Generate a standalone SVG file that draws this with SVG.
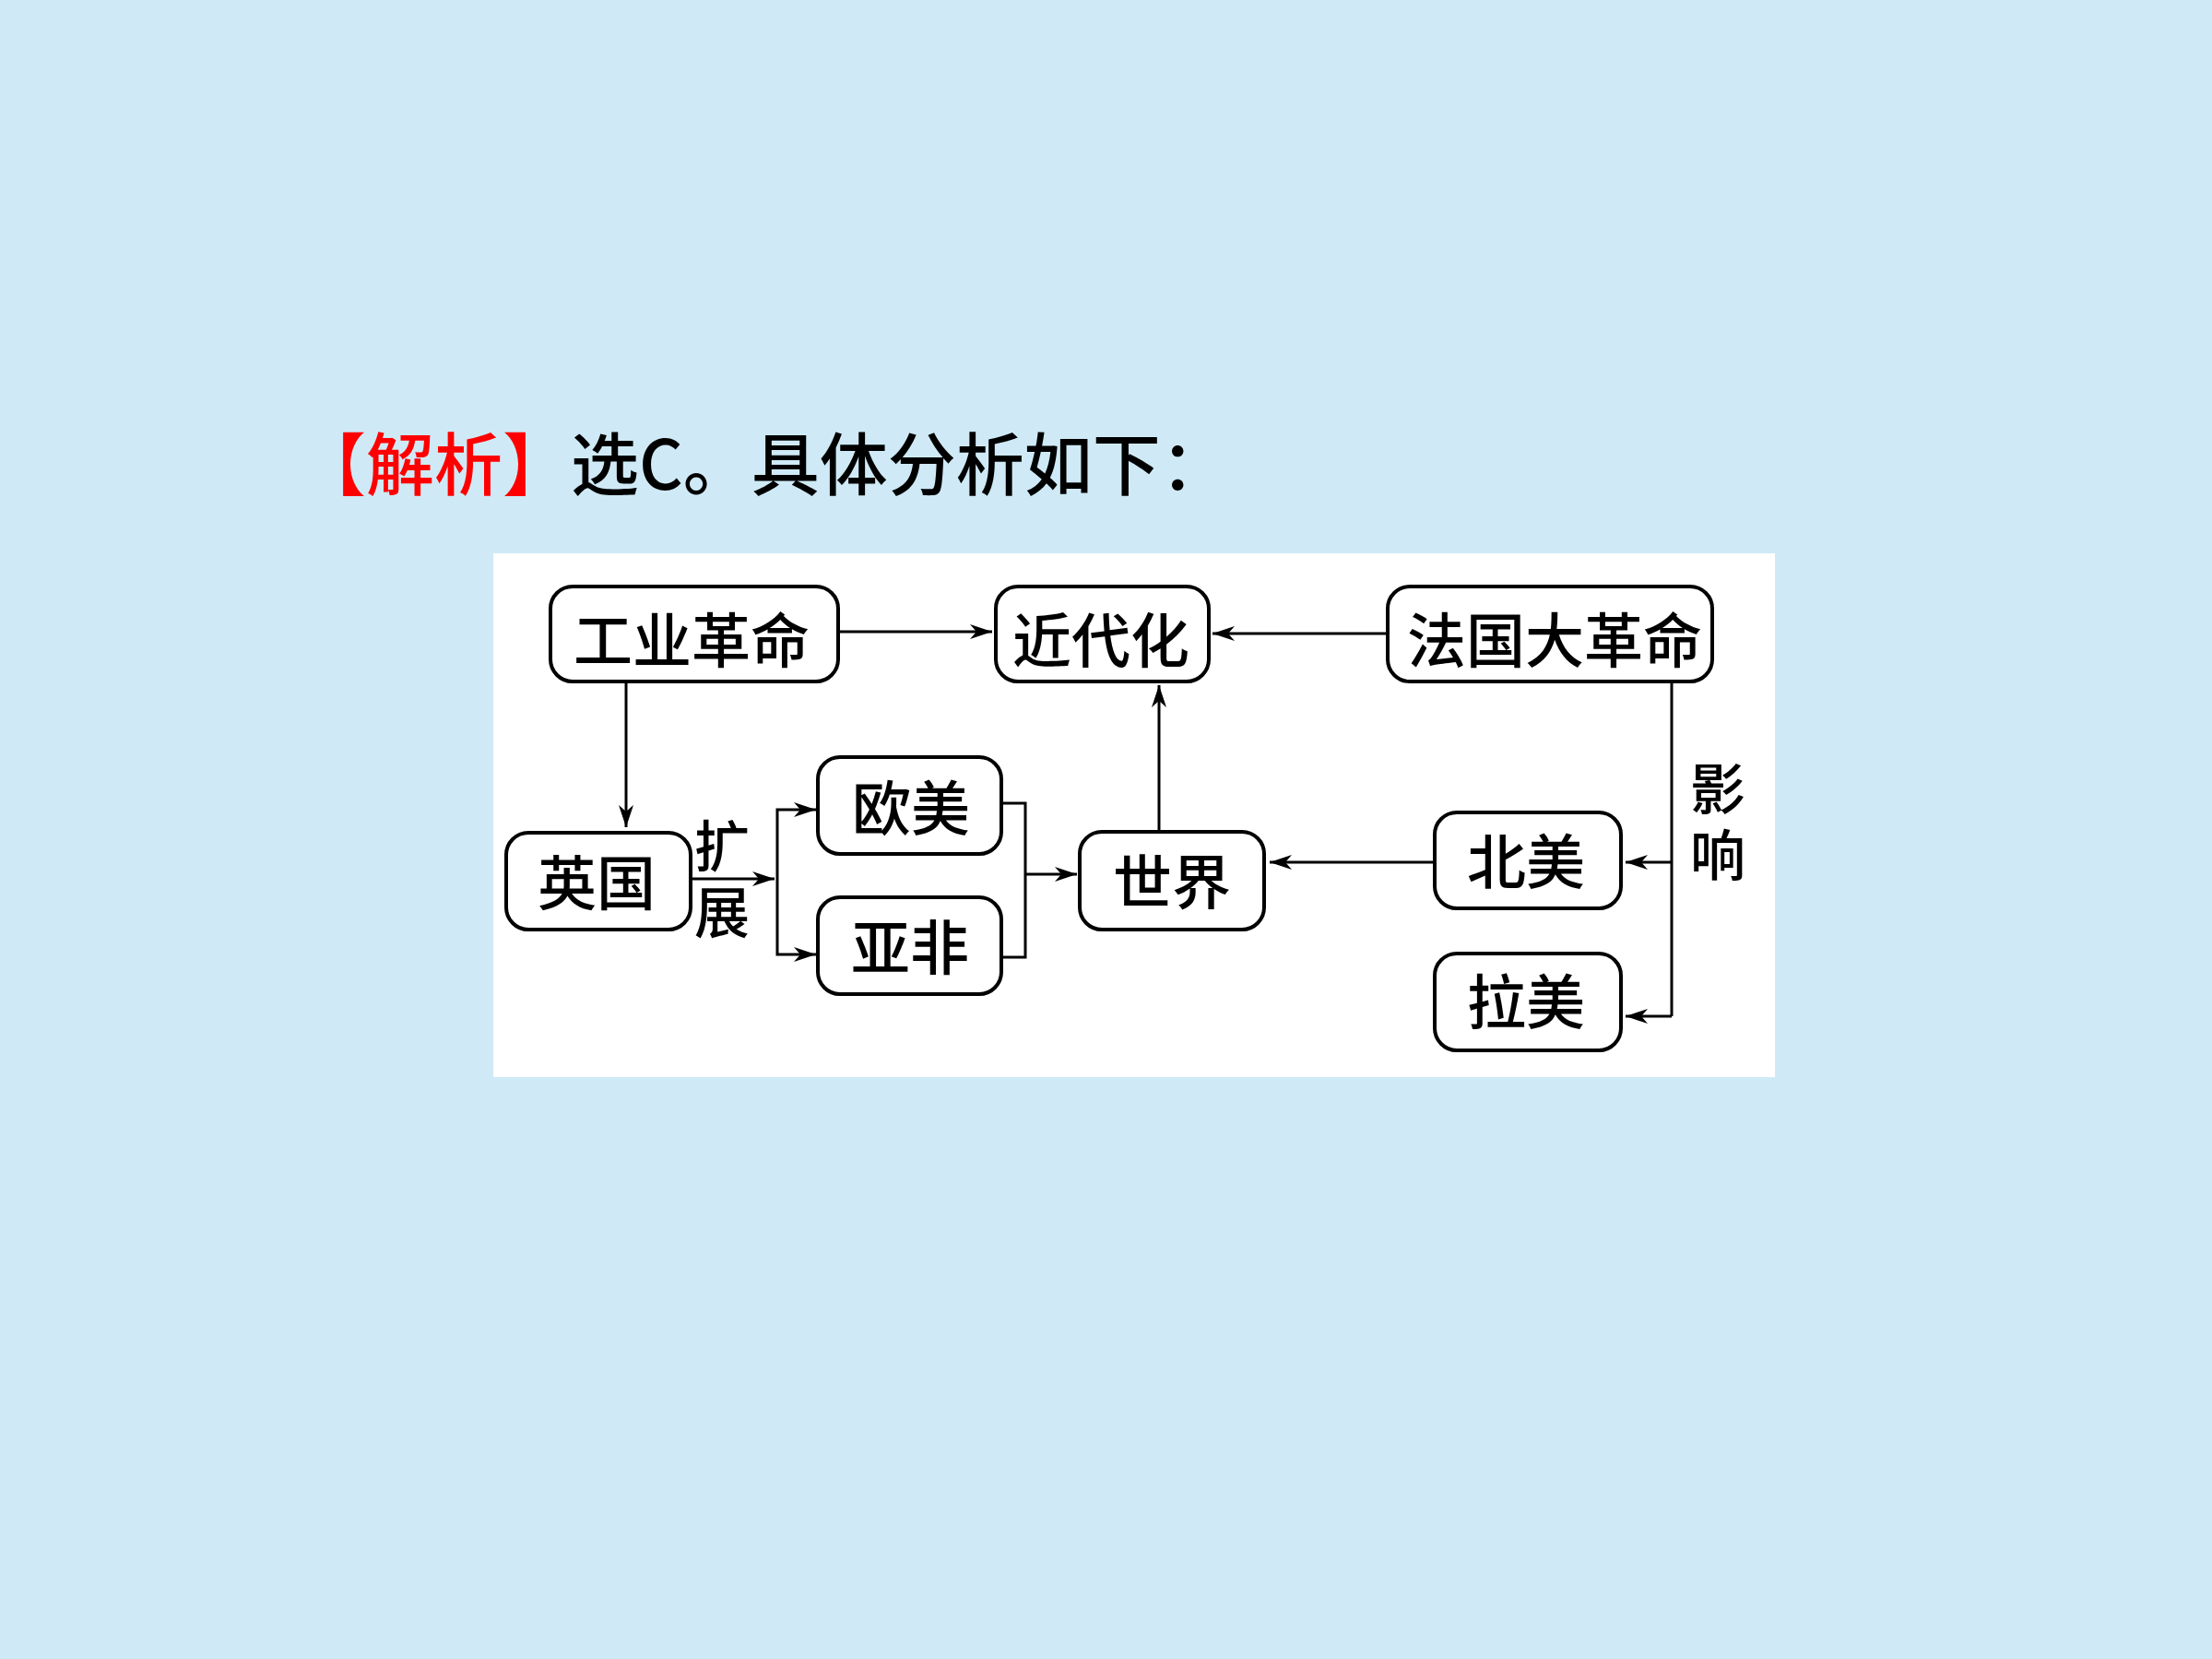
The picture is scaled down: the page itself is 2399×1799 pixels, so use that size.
<svg xmlns="http://www.w3.org/2000/svg" width="2399" height="1799" viewBox="0 0 2399 1799">
<defs>
<style>
.box{fill:#ffffff;stroke:#000000;stroke-width:4}
.lbl{font-family:"Noto Sans CJK SC","Noto Sans CJK JP",sans-serif;font-size:64px;font-weight:500;fill:#000000;text-anchor:middle;dominant-baseline:central}
.side{font-family:"Noto Sans CJK SC","Noto Sans CJK JP",sans-serif;font-size:60px;font-weight:500;fill:#000000;text-anchor:middle;writing-mode:vertical-rl;letter-spacing:12px}
.ln{fill:none;stroke:#000000;stroke-width:3}
.arr{marker-end:url(#ah)}
.title{font-family:"Noto Sans CJK SC","Noto Sans CJK JP",sans-serif;font-size:74px;font-weight:500;dominant-baseline:central}
</style>
<marker id="ah" viewBox="0 0 24 16" markerWidth="24" markerHeight="16" refX="24" refY="8" orient="auto" markerUnits="userSpaceOnUse">
<path d="M0,0 L24,8 L0,16 L7,8 Z" fill="#000000"/>
</marker>
</defs>
<rect x="0" y="0" width="2399" height="1799" fill="#cfeaf6"/>
<text class="title" x="323" y="498"><tspan fill="#ff0000">【解析】</tspan><tspan fill="#000000">选C。具体分析如下：</tspan></text>
<rect x="535" y="600" width="1390" height="568" fill="#ffffff"/>
<g id="connectors">
<path class="ln arr" d="M909,685 H1076"/>
<path class="ln arr" d="M1505,687 H1315"/>
<path class="ln arr" d="M679,739 V897"/>
<path class="ln arr" d="M750,953 H840"/>
<path class="ln arr" d="M843,953 V878 H885"/>
<path class="ln arr" d="M843,953 V1035 H885"/>
<path class="ln" d="M1086,871 H1112 V1038 H1086"/>
<path class="ln arr" d="M1112,948 H1168"/>
<path class="ln arr" d="M1257,901 V743"/>
<path class="ln arr" d="M1556,935 H1377"/>
<path class="ln" d="M1813,739 V1102"/>
<path class="ln arr" d="M1813,935 H1763"/>
<path class="ln arr" d="M1813,1102 H1763"/>
</g>
<g id="n-gongye"><rect class="box" x="597" y="636" width="312" height="103" rx="24"/><text class="lbl" x="750" y="690">工业革命</text></g>
<g id="n-jindaihua"><rect class="box" x="1080" y="636" width="231" height="103" rx="24"/><text class="lbl" x="1194" y="690">近代化</text></g>
<g id="n-faguo"><rect class="box" x="1505" y="636" width="352" height="103" rx="24"/><text class="lbl" x="1686" y="690">法国大革命</text></g>
<g id="n-yingguo"><rect class="box" x="549" y="903" width="200" height="105" rx="24"/><text class="lbl" x="647" y="953">英国</text></g>
<g id="n-oumei"><rect class="box" x="887" y="821" width="199" height="105" rx="24"/><text class="lbl" x="988" y="872">欧美</text></g>
<g id="n-yafei"><rect class="box" x="887" y="973" width="199" height="105" rx="24"/><text class="lbl" x="987" y="1023">亚非</text></g>
<g id="n-shijie"><rect class="box" x="1171" y="902" width="200" height="106" rx="24"/><text class="lbl" x="1271" y="952">世界</text></g>
<g id="n-beimei"><rect class="box" x="1556" y="881" width="202" height="104" rx="24"/><text class="lbl" x="1655" y="930">北美</text></g>
<g id="n-lamei"><rect class="box" x="1556" y="1034" width="202" height="105" rx="24"/><text class="lbl" x="1655" y="1082">拉美</text></g>
<g id="labels">
<text class="side" x="783" y="959">扩展</text>
<text class="side" x="1863" y="897">影响</text>
</g>
</svg>
